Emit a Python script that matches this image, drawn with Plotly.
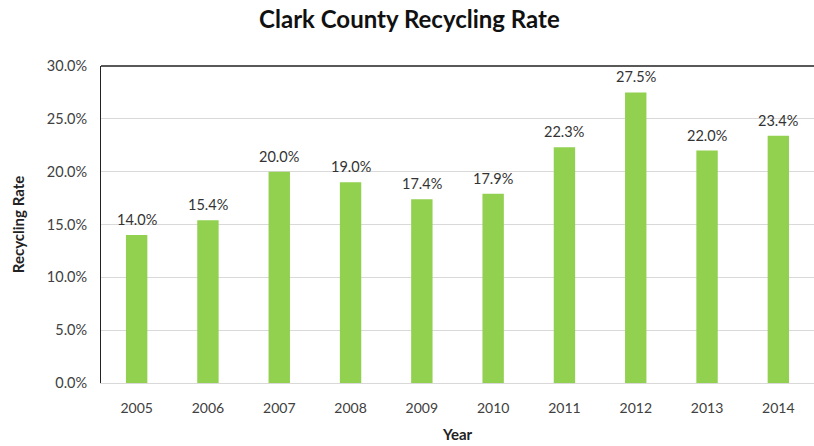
import plotly.graph_objects as go

years = ["2005", "2006", "2007", "2008", "2009", "2010", "2011", "2012", "2013", "2014"]
rates = [0.140, 0.154, 0.200, 0.190, 0.174, 0.179, 0.223, 0.275, 0.220, 0.234]
y_ticks = [0.0, 0.05, 0.10, 0.15, 0.20, 0.25, 0.30]

BAR_GREEN = "#92D050"
TEXT = "#404040"
FONT = "Lato"

fig = go.Figure(
    go.Bar(
        x=years,
        y=rates,
        marker=dict(color=BAR_GREEN, line=dict(width=0)),
        cliponaxis=False,
    )
)

# Value labels sitting a little above each bar (category axis: position by index)
for i, v in enumerate(rates):
    fig.add_annotation(
        x=i,
        y=v,
        xref="x",
        yref="y",
        text=f"{v * 100:.1f}%",
        showarrow=False,
        yanchor="bottom",
        yshift=5,
        font=dict(family=FONT, size=14.5, color="#333333"),
    )

fig.update_layout(
    width=814,
    height=446,
    margin=dict(l=101, r=0, t=66, b=63),
    paper_bgcolor="white",
    plot_bgcolor="white",
    bargap=0.7,
    showlegend=False,
    title=dict(
        text="<b>Clark County Recycling Rate</b>",
        x=0.503,
        xanchor="center",
        y=0.955,
        yanchor="middle",
        font=dict(family=FONT, size=24, color="#111111"),
    ),
    xaxis=dict(
        type="category",
        categoryorder="array",
        categoryarray=years,
        showgrid=False,
        showline=True,
        linecolor="#d9d9d9",
        linewidth=1,
        ticks="",
        ticklabelstandoff=12,
        tickfont=dict(family=FONT, size=14, color=TEXT),
        title=dict(text="<b>Year</b>", font=dict(family=FONT, size=15, color="#222222"), standoff=14),
    ),
    yaxis=dict(
        range=[0, 0.30],
        tickvals=y_ticks,
        tickformat=".1%",
        showgrid=True,
        gridcolor="#d9d9d9",
        gridwidth=1,
        zeroline=False,
        showline=True,
        linecolor="#222222",
        linewidth=1,
        ticks="",
        ticklabelstandoff=10,
        tickfont=dict(family=FONT, size=14.5, color=TEXT),
        title=dict(text="<b>Recycling Rate</b>", font=dict(family=FONT, size=15, color="#222222"), standoff=18),
    ),
    shapes=[
        dict(type="line", xref="paper", yref="paper", x0=0, x1=1, y0=1, y1=1,
             line=dict(color="#222222", width=1.5)),
    ],
)

fig.write_html("out.html")
